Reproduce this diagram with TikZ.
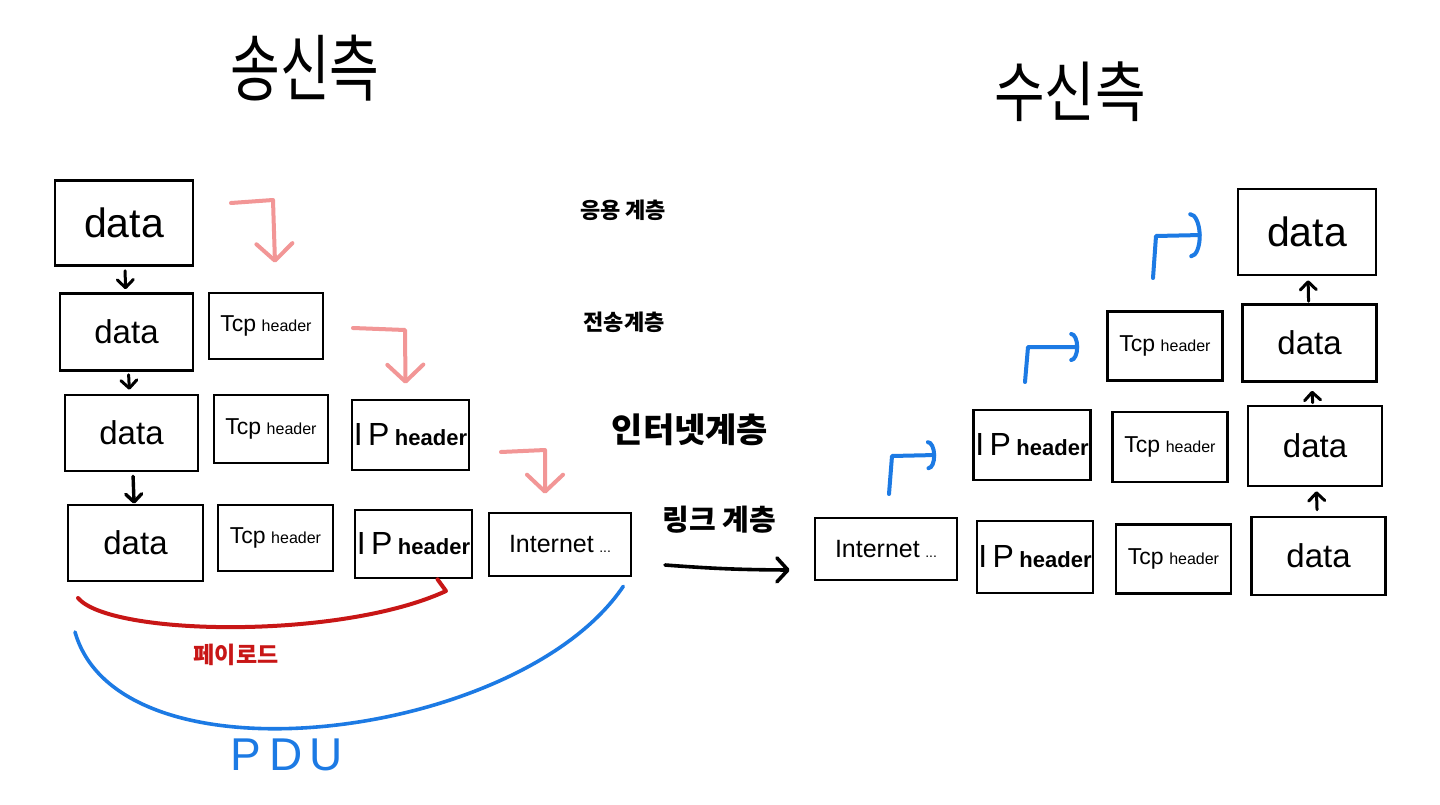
\documentclass[tikz,border=0pt]{standalone}
\usepackage{fontspec}
\setmainfont{Liberation Sans}
\newfontfamily\kr{Noto Sans CJK KR}
\usetikzlibrary{arrows.meta,calc}
\definecolor{pinkc}{RGB}{242,150,150}
\definecolor{bluec}{RGB}{28,122,228}
\definecolor{redc}{RGB}{200,22,22}
\newcommand{\tcph}{{\fontsize{23}{23}\selectfont Tcp}\,{\fontsize{16}{16}\selectfont header}}
\newcommand{\iph}{{\fontsize{32}{32}\selectfont I\,P}\,{\fontsize{22}{22}\selectfont\bfseries header}}
\newcommand{\inet}{{\fontsize{25}{25}\selectfont Internet}\,{\fontsize{14}{14}\selectfont ...}}
\tikzset{
  box/.style={draw=black, line width=2.6pt, inner sep=0pt, align=center, font=\fontsize{33}{33}\selectfont},
  bigbox/.style={box, font=\fontsize{41}{41}\selectfont},
  darr/.style={line width=3pt, line cap=round, -{Straight Barb[length=8pt,width=16pt,line cap=round,line join=round]}},
  pinkarr/.style={draw=pinkc, line width=4pt, line cap=round, line join=round, -{Straight Barb[length=17pt,width=36pt,line cap=round,line join=round]}},
  bluearr/.style={draw=bluec, line width=4pt, line cap=round, line join=round, -{Arc Barb[length=8pt,width=30pt,line cap=round]}},
  lbl/.style={inner sep=0pt, font=\kr},
}
\begin{document}
\begin{tikzpicture}[x=1pt,y=-1pt]
\fill[white] (0,0) rectangle (1440,805);
\useasboundingbox (0,0) rectangle (1440,805);

% titles
\node[lbl] (tsend) at (305,68) {\fontsize{54}{54}\selectfont\scalebox{1}[1.35]{송신측}};
\node[lbl] (trecv) at (1070,92) {\fontsize{55}{55}\selectfont\scalebox{1}[1.2]{수신측}};

% layer labels
\node[lbl] (lapp) at (623,210) {\fontsize{22}{22}\selectfont\bfseries 응용 계층};
\node[lbl] (ltrn) at (624,322) {\fontsize{22}{22}\selectfont\bfseries 전송계층};
\node[lbl] (lnet) at (690,430) {\fontsize{34}{34}\selectfont\bfseries 인터넷계층};
\node[lbl] (llnk) at (719,520) {\fontsize{29}{29}\selectfont\bfseries 링크 계층};

% sender boxes
\node[bigbox, minimum width=138, minimum height=85] (L1d) at (124,223) {data};
\node[box, minimum width=133, minimum height=77] (L2d) at (126.5,332) {data};
\node[box, minimum width=114, minimum height=66] (L2t) at (266,326) {\tcph};
\node[box, minimum width=133, minimum height=76] (L3d) at (131.5,433) {data};
\node[box, minimum width=114, minimum height=68] (L3t) at (271,429) {\tcph};
\node[box, minimum width=117, minimum height=70] (L3i) at (410.5,435) {\iph};
\node[box, minimum width=135, minimum height=76] (L4d) at (135.5,543) {data};
\node[box, minimum width=115, minimum height=66] (L4t) at (275.5,538) {\tcph};
\node[box, minimum width=117, minimum height=68] (L4i) at (413.5,544) {\iph};
\node[box, minimum width=142, minimum height=63] (L4n) at (560,544.5) {\inet};

% receiver boxes
\node[box, minimum width=142, minimum height=62] (Rn) at (886,549) {\inet};
\node[box, minimum width=116, minimum height=72] (R4i) at (1035,557) {\iph};
\node[box, minimum width=115, minimum height=69] (R4t) at (1173.5,559) {\tcph};
\node[box, minimum width=134, minimum height=78] (R4d) at (1318.5,556) {data};
\node[box, minimum width=117, minimum height=70] (R3i) at (1032,445) {\iph};
\node[box, minimum width=115, minimum height=70] (R3t) at (1170,447) {\tcph};
\node[box, minimum width=134, minimum height=80] (R3d) at (1315,446) {data};
\node[box, minimum width=115, minimum height=69] (R2t) at (1165,346) {\tcph};
\node[box, minimum width=134, minimum height=77] (R2d) at (1309.5,343) {data};
\node[bigbox, minimum width=138, minimum height=86] (R1d) at (1307,232) {data};

% sender black arrows
\draw[darr, shorten <=4pt, shorten >=3pt] (L1d) -- (L2d);
\draw[darr, shorten <=3pt, shorten >=4pt] (L2d) -- (L3d);
\draw[darr, line width=3.4pt, shorten <=4pt, shorten >=0pt] (L3d) -- (L4d);

% receiver black arrows
\draw[darr, shorten <=6pt, shorten >=4pt] (R4d) -- (R3d);
\draw[darr, shorten <=2pt, shorten >=8pt] (R3d) -- (R2d);
\draw[darr, shorten <=2pt, shorten >=4pt] (R2d) -- (R1d);

% pink arrows (encapsulation)
\coordinate (pa1) at (231,203);
\coordinate (pa2) at (353,328);
\coordinate (pa3) at (501,452);
\draw[pinkarr] (pa1) -- (273,200) -- ($(L2t.north)+(9,-29)$);
\draw[pinkarr] (pa2) -- (405,330) -- ($(L3i.north)+(-5,-15)$);
\draw[pinkarr] (pa3) -- (545,450) -- ($(L4n.north)+(-15,-18)$);

% blue arrows (decapsulation)
\coordinate (ba1) at (889,494);
\coordinate (ba2) at (1025,382);
\coordinate (ba3) at (1153,278);
\draw[bluearr] (ba1) -- (892,456) -- ($(R3i.west)+(-36,10)$);
\draw[bluearr] (ba2) -- (1028,347) -- ($(R2t.west)+(-27,1)$);
\draw[bluearr, -{Arc Barb[length=11pt,width=46pt,line cap=round]}] (ba3) -- (1156,236) -- ($(R1d.west)+(-35,3)$);

% link arrow
\coordinate (lk1) at (665,565);
\draw[line width=3.6pt, line cap=round, -{Straight Barb[length=11pt,width=24pt,line cap=round,line join=round]}] (lk1) to[bend right=2] ($(Rn.west)+(-24,21)$);

% payload and PDU braces
\coordinate (pay1) at (78,598);
\coordinate (pdu1) at (75,632);
\draw[redc, line width=4pt, line cap=round, line join=round] (pay1) .. controls (110,636) and (340,640) .. (446,591) -- ($(L4i.south)+(24,0)$);
\draw[bluec, line width=3.6pt, line cap=round] (pdu1) .. controls (120,790) and (520,740) .. ($(L4n.south east)+(-9,9)$);

\node[lbl, text=redc] (payl) at (236,655) {\fontsize{23}{23}\selectfont\bfseries 페이로드};
\node[inner sep=0pt, text=bluec] (pdul) at (287,755) {\fontsize{46}{46}\selectfont P\,D\,U};
\end{tikzpicture}
\end{document}
